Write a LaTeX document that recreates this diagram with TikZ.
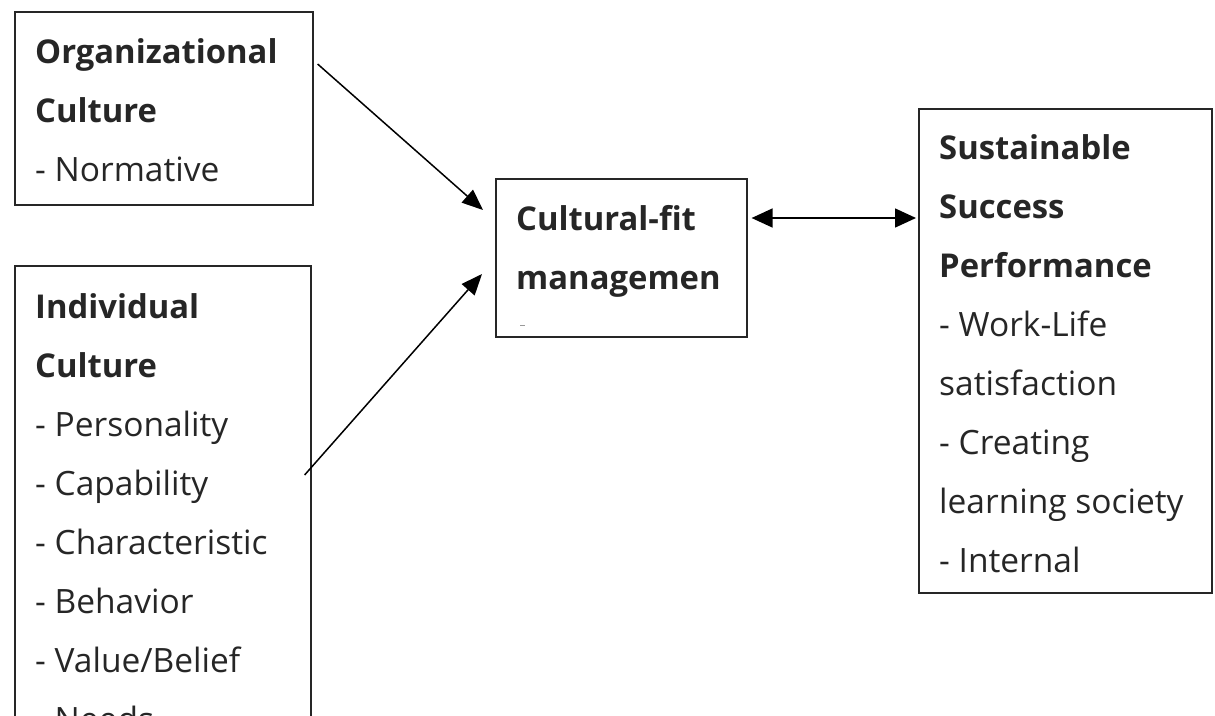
\documentclass[tikz,border=0pt]{standalone}
\usepackage{fontspec}
\setmainfont{Open Sans}
\newfontfamily\hdfont{Open Sans}
\usetikzlibrary{arrows.meta,calc}
\newcommand{\hd}{\hdfont\fontsize{32.8}{59}\selectfont\bfseries}
\begin{document}
\begin{tikzpicture}[x=1pt,y=-1pt,
  boxstyle/.style={draw=black!85, line width=1.6pt, inner sep=0pt, anchor=north west},
  txt/.style={anchor=base west, inner sep=0pt, align=left, font=\fontsize{33.5}{59}\selectfont, text=black!85},
  conn/.style={line width=1.5pt, -{Triangle[length=21pt,width=17pt]}},
  dconn/.style={line width=1.5pt, {Triangle[length=21pt,width=19pt]}-{Triangle[length=21pt,width=19pt]}}]
\useasboundingbox (0,0) rectangle (1215,715);
\node[boxstyle, minimum width=298pt, minimum height=193pt] (org) at (14,11) {};
\node[boxstyle, minimum width=296pt, minimum height=480pt] (ind) at (14,265) {};
\node[boxstyle, minimum width=251pt, minimum height=158pt] (fit) at (495,178) {};
\node[boxstyle, minimum width=293pt, minimum height=484pt] (ssp) at (918,108) {};

\node[txt] (orgtxt) at (35,181) {{\hd Organizational}\\{\hd Culture}\\- Normative};
\node[txt] (indtxt) at (35,731) {{\hd Individual}\\{\hd Culture}\\- Personality\\- Capability\\- Characteristic\\- Behavior\\- Value/Belief\\- Needs};
\node[txt] (fittxt) at (516,289) {{\hd Cultural-fit}\\{\hd managemen}};
\node[txt] (ssptxt) at (939,572) {{\hd Sustainable}\\{\hd Success}\\{\hd Performance}\\- Work-Life\\satisfaction\\- Creating\\learning society\\- Internal};
\draw[black!40, line width=0.8pt] ($(fit.north west)+(25,147)$) -- ($(fit.north west)+(30,147)$);

\coordinate (a1s) at ($(org.north east)+(4,53)$);
\coordinate (a1e) at ($(fit.north west)+(-12,32)$);
\coordinate (a2s) at ($(ind.north east)+(-7,210)$);
\coordinate (a2e) at ($(fit.north west)+(-13,96)$);
\coordinate (d1) at ($(fit.north east)+(4,40)$);
\coordinate (d2) at ($(ssp.north west)+(-2,110)$);
\draw[conn] (a1s) -- (a1e);
\draw[conn] (a2s) -- (a2e);
\draw[dconn] (d1) -- (d2);
\end{tikzpicture}
\end{document}
